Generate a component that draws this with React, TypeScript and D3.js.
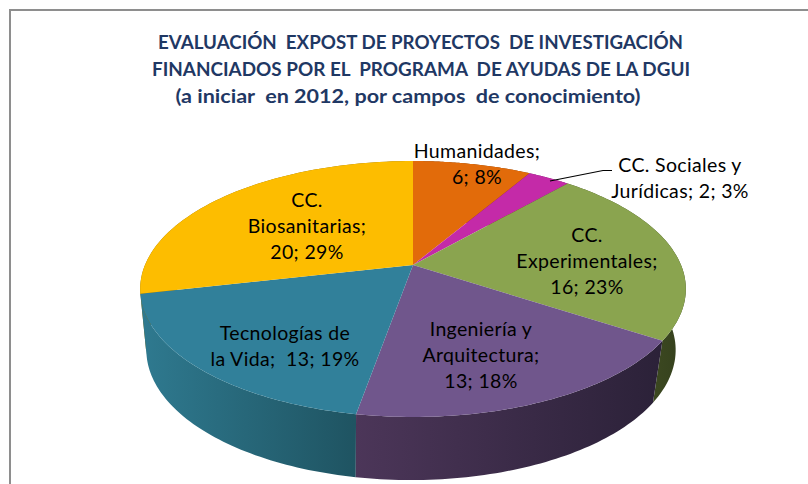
import React from 'react';
import * as d3 from 'd3';

const width = 808;
const height = 484;

const categories = ['Humanidades', 'CC. Sociales y Jurídicas', 'CC. Experimentales', 'Ingeniería y Arquitectura', 'Tecnologías de la Vida', 'CC. Biosanitarias'];
const values = [5.9, 2.1, 16, 12.94, 13.06, 20];
const topColors = ['#e26b0a', '#c42aa8', '#8aa44f', '#70568c', '#31809a', '#fdbd00'];
const sideLeft = ['#7a3a06', '#6b1a5c', '#3f4c22', '#4c3659', '#2f7a90', '#8a6700'];
const sideRight = ['#7a3a06', '#6b1a5c', '#333e1c', '#2b2138', '#1f5462', '#8a6700'];
const titleLines = [
  'EVALUACIÓN  EXPOST DE PROYECTOS  DE INVESTIGACIÓN',
  'FINANCIADOS POR EL  PROGRAMA  DE AYUDAS DE LA DGUI',
  '(a iniciar  en 2012, por campos  de conocimiento)',
];
// how each data label wraps, the last piece is built from the values
const labelHeads = [['Humanidades;'], ['CC. Sociales y'], ['CC.', 'Experimentales;'], ['Ingeniería y', 'Arquitectura;'], ['Tecnologías de'], ['CC.', 'Biosanitarias;']];
const labelTailPrefix = ['', 'Jurídicas; ', '', '', 'la Vida;  ', ''];
const labelX = [477, 680, 587, 481, 285, 307];
const labelY = [158, 172, 242, 336, 340, 207];
const titleWidths = [525, 538, 465];
const titleX = [420.5, 421, 408];

const cx = 413;
const cy = 265;
const radius = 268;
const persp = -0.1875;
const tiltA = 73.8;
const sideScaleX = 0.97;
const sideShift = 61;
const sideScaleY = 1.016;

const total = d3.sum(values);
const pct = d3.format('.0%');
const arcs = d3.pie<number>().sort(null).value(d => d)(values);

// top face rim, perspective view of the circle
const rim = (a: number): [number, number] => {
  const u = Math.sin(a);
  const v = -Math.cos(a);
  const w = 1 + persp * v;
  return [cx + (radius * u) / w, (tiltA * v + cy) / w];
};
// bottom rim of the pie wall
const lowRim = (a: number): [number, number] => {
  const [x, y] = rim(a);
  return [cx - 2 + (x - cx) * sideScaleX, 289 + sideShift + (y - 289) * sideScaleY];
};

const line = d3.line();
const sweep = (a0: number, a1: number) => d3.range(0, 61).map(i => a0 + ((a1 - a0) * i) / 60);

const topPath = (a0: number, a1: number) => line([[cx, cy], ...sweep(a0, a1).map(rim)]) + 'Z';
const sidePath = (a0: number, a1: number) => {
  const s = sweep(a0, a1);
  return line([...s.map(rim), ...s.slice().reverse().map(lowRim)]) + 'Z';
};

const wallOrder = [5, 0, 1, 2, 4, 3];
const gradX = [[139, 360], [139, 360], [640, 690], [354, 665], [139, 354], [139, 360]];

const App = () => {
  const tagFrom: [number, number] = [550, 181];
  const tagMid: [number, number] = [603, 170.5];
  const tagTo: [number, number] = [612, 170.5];
  return (
    <svg width={width} height={height} style={{ position: 'absolute', left: 0, top: 0 }} fontFamily="Lato, 'Open Sans', sans-serif">
      <defs>
        {arcs.map((d, i) => (
          <linearGradient key={i} id={`wall${i}`} gradientUnits="userSpaceOnUse" x1={gradX[i][0]} x2={gradX[i][1]} y1={0} y2={0}>
            <stop offset="0" stopColor={sideLeft[i]} />
            <stop offset="1" stopColor={sideRight[i]} />
          </linearGradient>
        ))}
      </defs>
      <rect width={width} height={height} fill="#fff" />
      <path d={`M10,${height}V10H${width}`} fill="none" stroke="#8e8e8e" strokeWidth={2} />

      {titleLines.map((t, i) => (
        <text key={i} x={titleX[i]} y={48.5 + i * 27} textAnchor="middle" fontSize={18.5} fontWeight={700} fill="#1f3864" textLength={titleWidths[i]} lengthAdjust="spacingAndGlyphs" xmlSpace="preserve">
          {t}
        </text>
      ))}

      {wallOrder.map(i => (
        <path key={i} d={sidePath(arcs[i].startAngle, arcs[i].endAngle)} fill={`url(#wall${i})`} />
      ))}
      {arcs.map((d, i) => (
        <path key={i} d={topPath(d.startAngle, d.endAngle)} fill={topColors[i]} />
      ))}

      <path d={line([tagFrom, tagMid, tagTo]) || ''} fill="none" stroke="#000" strokeWidth={1.2} />

      {categories.map((c, i) => {
        const tail = `${labelTailPrefix[i]}${Math.round(values[i])}; ${pct(Math.round((values[i] / total) * 100) / 100)}`;
        const rows = [...labelHeads[i], tail];
        return (
          <text key={c} textAnchor="middle" fontSize={19.5} letterSpacing={0.35} fill="#000" xmlSpace="preserve">
            {rows.map((r, j) => (
              <tspan key={j} x={labelX[i]} y={labelY[i] + j * 26}>{r}</tspan>
            ))}
          </text>
        );
      })}
    </svg>
  );
};

export default App;
